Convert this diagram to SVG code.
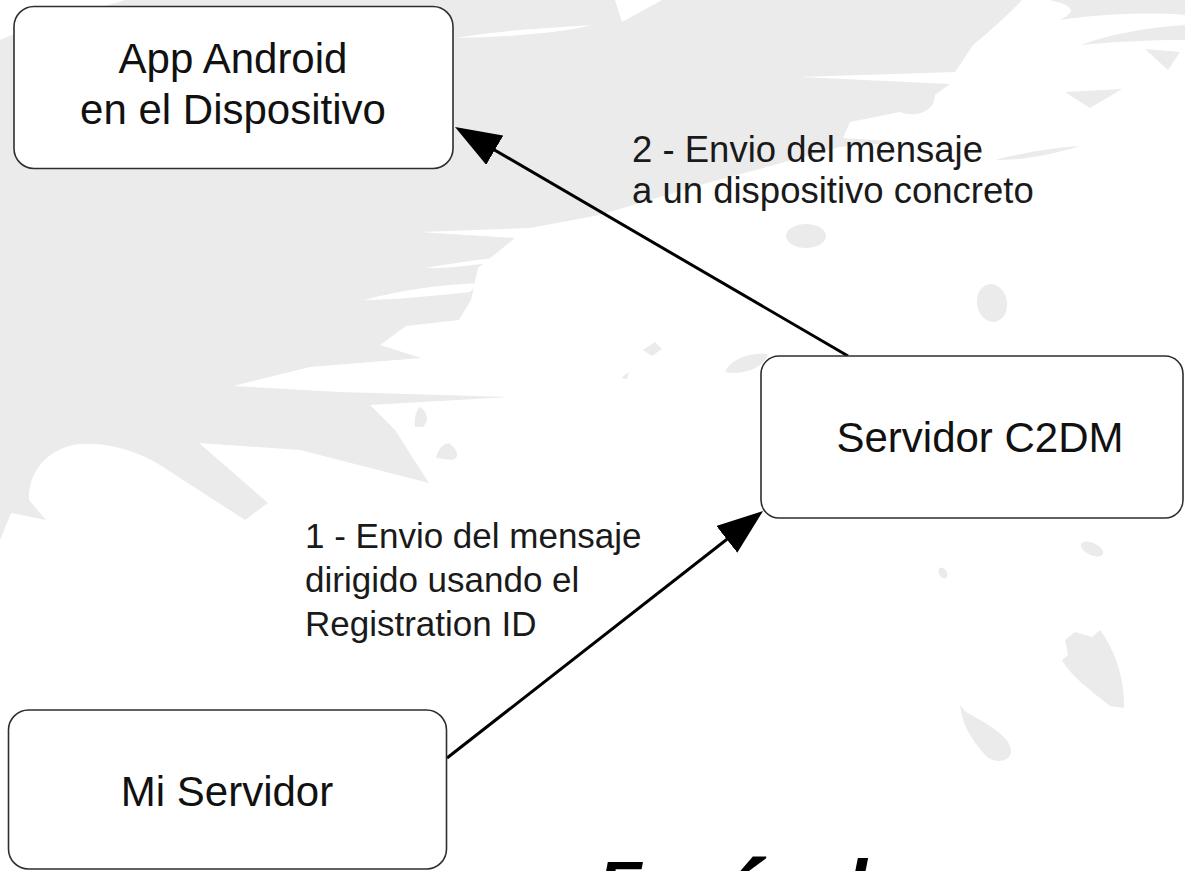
<svg xmlns="http://www.w3.org/2000/svg" width="1185" height="871" viewBox="0 0 1185 871">
<style>
.bg{fill:#ebebeb}
.bgw{fill:#ffffff}
.node rect{fill:#ffffff;stroke:#2e2e2e;stroke-width:1.6}
.nt{font-family:"Liberation Sans",Arial,sans-serif;font-size:42px;fill:#111111;text-anchor:middle}
.lbl{font-family:"Liberation Sans",Arial,sans-serif;fill:#1a1a1a}
.edge{stroke:#000000;stroke-width:3;fill:none}
.wm{font-family:"Liberation Sans",Arial,sans-serif;font-weight:bold;font-style:italic;fill:#000000}
</style>
<defs>
<marker id="ah" markerUnits="userSpaceOnUse" markerWidth="46" markerHeight="34" viewBox="0 0 46 34" refX="40" refY="17" orient="auto">
<path d="M0,0 L46,17 L0,34 Z" fill="#000000"/>
</marker>
</defs>
<rect x="0" y="0" width="1185" height="871" fill="#ffffff"/>
<g id="background">
<path class="bg" d="M0,540 L0,40 C40,22 95,10 125,0 L615,0 L622,22 L662,0 L1022,0 C1005,18 985,35 973,45 L955,72 L800,77 L950,84 L935,95 C935,112 915,118 900,112 L850,122 L843,138 L902,142 L840,147 L700,185 L600,215 L530,228 L420,232 L515,238 L478,268 L471,300 L459,320 L406,326 L380,345 L421,358 L310,367 L233,386 L340,392 L509,397 L370,405 L395,430 L429,483 L300,450 L199,443 L268,503 L245,520 L160,465 C130,446 90,440 69,446 C40,455 28,478 29,500 L46,520 L11,513 Z"/>
<path class="bgw" d="M455,38 C500,30 550,28 592,25 C560,33 510,37 455,38 Z"/>
<path class="bgw" d="M425,268 C460,262 490,258 517,256 C490,264 455,268 425,268 Z"/>
<path class="bgw" d="M364,300 C400,290 440,285 478,283 L470,292 C430,296 395,300 364,300 Z"/>
<path class="bg" d="M1050,0 L1185,0 L1185,15 C1150,12 1100,14 1060,20 C1080,10 1070,5 1050,0 Z"/>
<path class="bg" d="M1081,45 C1110,34 1150,27 1185,25 L1185,40 C1150,40 1110,42 1081,45 Z"/>
<path class="bg" d="M1145,49 L1180,52 L1168,70 Z"/>
<path class="bg" d="M1065,92 L1122,89 L1090,108 Z"/>
<path class="bg" d="M995,160 C1025,152 1060,147 1080,146 C1055,154 1025,160 995,160 Z"/>
<ellipse class="bg" cx="806" cy="236" rx="20" ry="12"/>
<ellipse class="bg" cx="992" cy="303" rx="15" ry="19" transform="rotate(-10 992 303)"/>
<path class="bg" d="M643,350 L655,342 L662,349 L652,356 Z"/>
<path class="bg" d="M725,372 C730,360 748,352 768,354 C765,366 745,376 725,372 Z"/>
<path class="bg" d="M621,378 L629,372 L627,379 Z"/>
<path class="bg" d="M436,458 C438,448 445,442 450,444 C458,450 460,458 452,460 Z"/>
<path class="bg" d="M341,438 L350,441 L348,447 Z"/>
<path class="bg" d="M415,427 C414,418 416,410 420,407 C427,412 430,420 423,427 Z"/>
<ellipse class="bg" cx="1092" cy="549" rx="12" ry="6" transform="rotate(25 1092 549)"/>
<ellipse class="bg" cx="943" cy="573" rx="4" ry="6" transform="rotate(-30 943 573)"/>
<path class="bg" d="M1065,640 L1075,632 L1092,637 L1100,630 C1115,650 1125,680 1124,708 L1110,706 C1090,690 1070,675 1062,660 L1068,655 Z"/>
<path class="bg" d="M960,705 L966,712 C980,720 1010,735 1011,750 C1012,762 995,765 985,755 C972,740 962,725 960,705 Z"/>
</g>
<g id="watermark">
<text class="wm" x="598" y="907" style="font-size:65px">E</text>
<text class="wm" x="728" y="930" style="font-size:100px">´</text>
<text class="wm" x="846" y="912" style="font-size:75px">l</text>
</g>
<g id="connectors">
<line id="edge-c2dm-app" class="edge" x1="848" y1="356" x2="460.2" y2="130" marker-end="url(#ah)"/>
<line id="edge-mi-c2dm" class="edge" x1="447" y1="758" x2="758.3" y2="514.7" marker-end="url(#ah)"/>
<text class="lbl" font-size="36.5"><tspan x="632" y="162">2 - Envio del mensaje</tspan><tspan x="632" y="203">a un dispositivo concreto</tspan></text>
<text class="lbl" font-size="35"><tspan x="305" y="548">1 - Envio del mensaje</tspan><tspan x="305" y="592">dirigido usando el</tspan><tspan x="305" y="636">Registration ID</tspan></text>
</g>
<g id="node-app" class="node">
<rect x="14" y="6.5" width="439" height="162" rx="20"/>
<text class="nt"><tspan x="233" y="73">App Android</tspan><tspan x="233" y="124">en el Dispositivo</tspan></text>
</g>
<g id="node-c2dm" class="node">
<rect x="761" y="356" width="422" height="162" rx="18"/>
<text class="nt" x="980" y="452">Servidor C2DM</text>
</g>
<g id="node-miservidor" class="node">
<rect x="8.5" y="710" width="438" height="159" rx="20"/>
<text class="nt" x="227" y="806">Mi Servidor</text>
</g>
</svg>
